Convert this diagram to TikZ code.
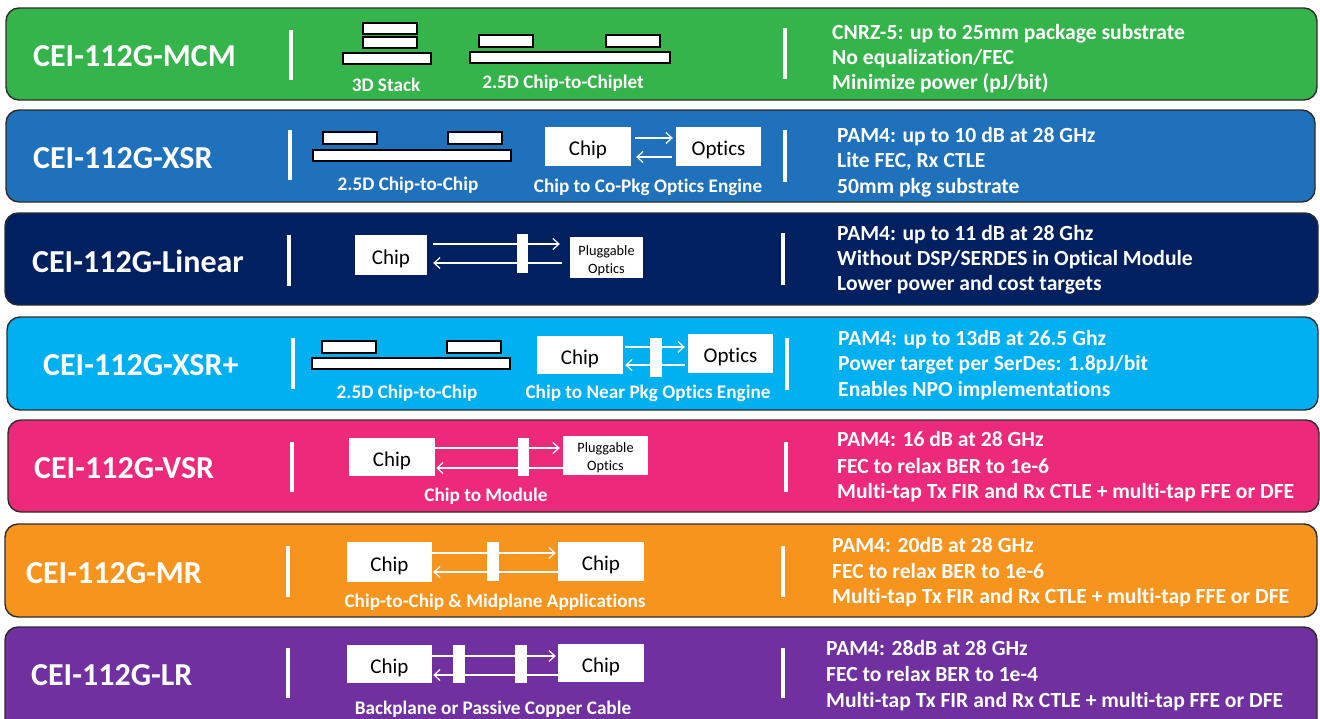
\documentclass[tikz,border=0pt]{standalone}
\usepackage{fontspec}
\setmainfont{Carlito}[Ligatures=NoCommon]
\usetikzlibrary{arrows.meta}

\definecolor{bandgreen}{RGB}{52,180,74}
\definecolor{bandblue}{RGB}{30,113,186}
\definecolor{bandnavy}{RGB}{0,32,96}
\definecolor{bandcyan}{RGB}{0,176,240}
\definecolor{bandpink}{RGB}{236,41,122}
\definecolor{bandorange}{RGB}{247,148,30}
\definecolor{bandpurple}{RGB}{112,48,160}
\definecolor{bandedge}{RGB}{45,45,45}

\begin{document}
\begin{tikzpicture}[x=1pt,y=-1pt,
  band/.style={draw=bandedge,line width=1.4pt,rounded corners=13pt},
  title/.style={text=white,anchor=base west,inner sep=0pt,font=\fontsize{32}{38}\selectfont\bfseries},
  info/.style={text=white,anchor=base west,inner sep=0pt,font=\fontsize{21.6}{25}\selectfont\bfseries},
  caption/.style={text=white,anchor=base,inner sep=0pt,font=\fontsize{19.2}{23}\selectfont\bfseries},
  vbar/.style={white,line width=3.5pt},
  die/.style={draw=black,fill=white,line width=1.7pt},
  chipbox/.style={fill=white,inner sep=0pt,text=black,text height=18pt,text depth=0pt,font=\fontsize{21}{25}\selectfont},
  plugbox/.style={fill=white,inner sep=0pt},
  plugtext/.style={inner sep=0pt,text=black,align=center,font=\fontsize{14.3}{18}\selectfont},
  conn/.style={fill=white,inner sep=0pt},
  link/.style={white,line width=1.2pt,-{Straight Barb[length=6pt,width=11pt,line width=1.2pt]}}
]
\useasboundingbox (0,0) rectangle (1320,718);

% colour bands
\begin{scope}
  \clip (0,0) rectangle (1320,718);
  \draw[band,fill=bandgreen]  (6,8)    rectangle (1317,100);
  \draw[band,fill=bandblue]   (6,110)  rectangle (1315,202);
  \draw[band,fill=bandnavy]   (5,213)  rectangle (1318,305);
  \draw[band,fill=bandcyan]   (7,317)  rectangle (1318,410);
  \draw[band,fill=bandpink]   (8,420)  rectangle (1319,512);
  \draw[band,fill=bandorange] (5,524)  rectangle (1317,617);
  \draw[band,fill=bandpurple] (5,627)  rectangle (1317,735);
\end{scope}

% interface names
\node[title] (t1) at (33,66)  {CEI-112G-MCM};
\node[title] (t2) at (33,168) {CEI-112G-XSR};
\node[title] (t3) at (32,272) {CEI-112G-Linear};
\node[title] (t4) at (43,375) {CEI-112G-XSR+};
\node[title] (t5) at (34,478) {CEI-112G-VSR};
\node[title] (t6) at (26,583) {CEI-112G-MR};
\node[title] (t7) at (31,685) {CEI-112G-LR};

% column separators
\draw[vbar] (291,30) -- (291,80);   \draw[vbar] (785,28) -- (785,79);
\draw[vbar] (290,130) -- (290,180); \draw[vbar] (785,130) -- (785,182);
\draw[vbar] (289,235) -- (289,286); \draw[vbar] (783,233) -- (783,285);
\draw[vbar] (293,338) -- (293,389); \draw[vbar] (787,338) -- (787,390);
\draw[vbar] (292,442) -- (292,492); \draw[vbar] (786,442) -- (786,492);
\draw[vbar] (288,546) -- (288,597); \draw[vbar] (783,546) -- (783,597);
\draw[vbar] (288,648) -- (288,698); \draw[vbar] (783,648) -- (783,698);

% ---- MCM: 3D stack and 2.5D chip-to-chiplet
\draw[die] (363,23) rectangle (417,34);
\draw[die] (363,37) rectangle (417,48);
\draw[die] (343,53) rectangle (431,64);
\draw[die] (479,35) rectangle (533,47);
\draw[die] (606,35) rectangle (660,47);
\draw[die] (470,52) rectangle (670,63);
\node[caption] (l1a) at (386,91) {3D Stack};
\node[caption] (l1b) at (563,88) {2.5D Chip-to-Chiplet};

% ---- XSR
\draw[die] (323,132) rectangle (377,144);
\draw[die] (448,132) rectangle (502,144);
\draw[die] (313,150) rectangle (511,161);
\node[caption] (l2a) at (408,190) {2.5D Chip-to-Chip};
\node[chipbox,minimum width=86pt,minimum height=39pt] (c2a) at (588,146.5) {Chip};
\node[chipbox,minimum width=85pt,minimum height=39pt] (c2b) at (718.5,146.5) {Optics};
\draw[link,shorten <=4pt,shorten >=3pt] ([yshift=8.5pt]c2a.east) -- ([yshift=8.5pt]c2a.east -| c2b.west);
\draw[link,shorten <=4pt,shorten >=5pt] ([yshift=-10.5pt]c2b.west) -- ([yshift=-10.5pt]c2b.west -| c2a.east);
\node[caption] (l2b) at (648,192) {Chip to Co-Pkg Optics Engine};

% ---- Linear
\node[chipbox,minimum width=72pt,minimum height=40pt] (c3a) at (391,255) {Chip};
\node[plugbox,minimum width=73pt,minimum height=41pt] (c3b) at (606.5,257.5) {};
\node[plugtext] (p3) at ([yshift=-3pt]c3b.center) {Pluggable\\Optics};
\draw[link,shorten <=6pt,shorten >=10pt] ([yshift=11pt]c3a.east) -- ([yshift=11pt]c3a.east -| c3b.west);
\draw[link,shorten <=8pt,shorten >=6pt] ([yshift=-8pt]c3a.east -| c3b.west) -- ([yshift=-8pt]c3a.east);
\node[conn,minimum width=11pt,minimum height=39pt] (k3) at (522.5,253.5) {};

% ---- XSR+
\draw[die] (322,341) rectangle (376,353);
\draw[die] (447,341) rectangle (501,353);
\draw[die] (312,358) rectangle (510,369);
\node[caption] (l4a) at (407,398) {2.5D Chip-to-Chip};
\node[chipbox,minimum width=86pt,minimum height=38pt] (c4a) at (580,355) {Chip};
\node[chipbox,minimum width=85pt,minimum height=39pt] (c4b) at (730.5,353.5) {Optics};
\draw[link,shorten <=2pt,shorten >=3pt] ([yshift=8pt]c4a.east) -- ([yshift=8pt]c4a.east -| c4b.west);
\draw[link,shorten <=3pt,shorten >=2pt] ([yshift=-10pt]c4a.east -| c4b.west) -- ([yshift=-10pt]c4a.east);
\node[conn,minimum width=12pt,minimum height=39pt] (k4) at (656,357.5) {};
\node[caption] (l4b) at (648,398) {Chip to Near Pkg Optics Engine};

% ---- VSR
\node[chipbox,minimum width=86pt,minimum height=38pt] (c5a) at (392,457) {Chip};
\node[plugbox,minimum width=85pt,minimum height=39pt] (c5b) at (605.5,455.5) {};
\node[plugtext] (p5) at ([yshift=-2pt]c5b.center) {Pluggable\\Optics};
\draw[link,shorten >=3pt] ([yshift=9pt]c5a.east) -- ([yshift=9pt]c5a.east -| c5b.west);
\draw[link,shorten >=1pt] ([yshift=-11pt]c5a.east -| c5b.west) -- ([yshift=-11pt]c5a.east);
\node[conn,minimum width=11pt,minimum height=38pt] (k5) at (523.5,457) {};
\node[caption] (l5) at (486,501) {Chip to Module};

% ---- MR
\node[chipbox,minimum width=85pt,minimum height=40pt] (c6a) at (389.5,562) {Chip};
\node[chipbox,minimum width=86pt,minimum height=39pt] (c6b) at (601,561.5) {Chip};
\draw[link,shorten >=2pt] ([yshift=9pt]c6a.east) -- ([yshift=9pt]c6a.east -| c6b.west);
\draw[link,shorten >=1pt] ([yshift=-10pt]c6a.east -| c6b.west) -- ([yshift=-10pt]c6a.east);
\node[conn,minimum width=12pt,minimum height=39pt] (k6) at (493,561.5) {};
\node[caption] (l6) at (495,607) {Chip-to-Chip \& Midplane Applications};

% ---- LR
\node[chipbox,minimum width=85pt,minimum height=38pt] (c7a) at (389.5,664) {Chip};
\node[chipbox,minimum width=86pt,minimum height=38pt] (c7b) at (601,663) {Chip};
\draw[link,shorten >=2pt] ([yshift=8pt]c7a.east) -- ([yshift=8pt]c7a.east -| c7b.west);
\draw[link,shorten >=1pt] ([yshift=-11pt]c7a.east -| c7b.west) -- ([yshift=-11pt]c7a.east);
\node[conn,minimum width=12pt,minimum height=38pt] (k7a) at (459,664) {};
\node[conn,minimum width=12pt,minimum height=38pt] (k7b) at (521,664) {};
\node[caption] (l7) at (493,714) {Backplane or Passive Copper Cable};

% ---- electrical characteristics
\node[info] (i1a) at (832,39) {CNRZ-5: up to 25mm package substrate};
\node[info] (i1b) at (832,64) {No equalization/FEC};
\node[info] (i1c) at (832,89) {Minimize power (pJ/bit)};

\node[info] (i2a) at (837,142) {PAM4: up to 10 dB at 28 GHz};
\node[info] (i2b) at (837,167) {Lite FEC, Rx CTLE};
\node[info] (i2c) at (837,193) {50mm pkg substrate};

\node[info] (i3a) at (837,240) {PAM4: up to 11 dB at 28 Ghz};
\node[info] (i3b) at (837,265) {Without DSP/SERDES in Optical Module};
\node[info] (i3c) at (837,290) {Lower power and cost targets};

\node[info] (i4a) at (838,345) {PAM4: up to 13dB at 26.5 Ghz};
\node[info] (i4b) at (838,370) {Power target per SerDes: 1.8pJ/bit};
\node[info] (i4c) at (838,396) {Enables NPO implementations};

\node[info] (i5a) at (837,446) {PAM4: 16 dB at 28 GHz};
\node[info] (i5b) at (837,473) {FEC to relax BER to 1e-6};
\node[info] (i5c) at (837,498) {Multi-tap Tx FIR and Rx CTLE + multi-tap FFE or DFE};

\node[info] (i6a) at (832,552) {PAM4: 20dB at 28 GHz};
\node[info] (i6b) at (832,578) {FEC to relax BER to 1e-6};
\node[info] (i6c) at (832,603) {Multi-tap Tx FIR and Rx CTLE + multi-tap FFE or DFE};

\node[info] (i7a) at (826,655) {PAM4: 28dB at 28 GHz};
\node[info] (i7b) at (826,681) {FEC to relax BER to 1e-4};
\node[info] (i7c) at (826,707) {Multi-tap Tx FIR and Rx CTLE + multi-tap FFE or DFE};
\end{tikzpicture}
\end{document}
